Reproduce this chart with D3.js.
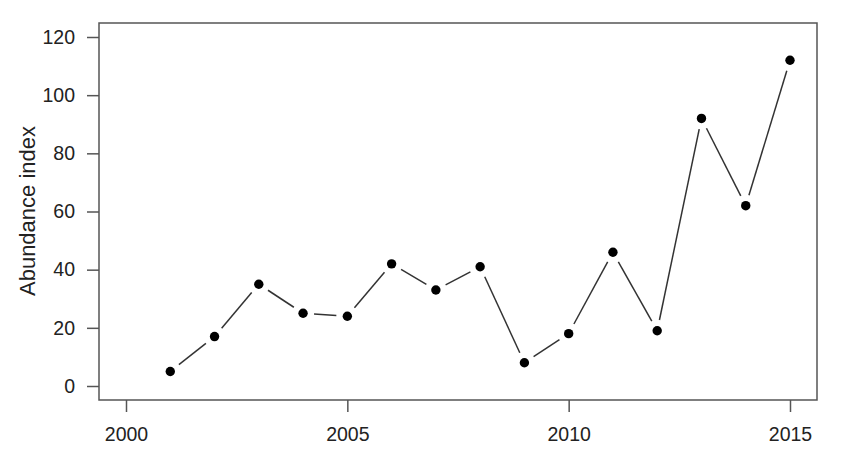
<!DOCTYPE html>
<html>
<head>
<meta charset="utf-8">
<script src="https://cdn.jsdelivr.net/npm/d3@7"></script>
<style>
  body { margin: 0; background: #fff; }
  text { font-family: "Liberation Sans", Arial, sans-serif; fill: #222; }
</style>
</head>
<body>
<div id="chart"></div>
<script>
// data
var years = [2001, 2002, 2003, 2004, 2005, 2006, 2007, 2008, 2009, 2010, 2011, 2012, 2013, 2014, 2015];
var abundance = [5, 17, 35, 25, 24, 42, 33, 41, 8, 18, 46, 19, 92, 62, 112];
var xTicks = [2000, 2005, 2010, 2015];
var yTicks = [0, 20, 40, 60, 80, 100, 120];

var W = 853, H = 464;
var box = { left: 99, right: 817, top: 23, bot: 400 };

var svg = d3.select("#chart").append("svg")
  .attr("width", W)
  .attr("height", H);

var x = d3.scaleLinear().domain([2000, 2015]).range([126, 790]);
var y = d3.scaleLinear().domain([0, 120]).range([386, 37]);

var data = years.map(function(d, i) { return { year: d, value: abundance[i] }; });

// plot frame
svg.append("rect")
  .attr("x", box.left)
  .attr("y", box.top)
  .attr("width", box.right - box.left)
  .attr("height", box.bot - box.top)
  .style("fill", "none")
  .style("stroke", "#555")
  .style("stroke-width", 1.5);

// x axis (R style, detached ticks)
var xAxis = d3.axisBottom(x).tickValues(xTicks).tickFormat(d3.format("d"))
  .tickSize(12).tickPadding(15);
var gx = svg.append("g")
  .attr("transform", "translate(0," + box.bot + ")")
  .call(xAxis);
gx.select(".domain").remove();
gx.selectAll("line").style("stroke", "#555").style("stroke-width", 1.5);
gx.selectAll("text").style("font-size", "19.5px").style("fill", "#222");

// y axis
var yAxis = d3.axisLeft(y).tickValues(yTicks).tickSize(12).tickPadding(12);
var gy = svg.append("g")
  .attr("transform", "translate(" + box.left + ",0)")
  .call(yAxis);
gy.select(".domain").remove();
gy.selectAll("line").style("stroke", "#555").style("stroke-width", 1.5);
gy.selectAll("text").style("font-size", "19.5px").style("fill", "#222");

// y label
svg.append("text")
  .attr("text-anchor", "middle")
  .attr("transform", "translate(35, 211) rotate(-90)")
  .style("font-size", "22px")
  .text("Abundance index");

// type = "b": segments with gaps round the points
var gap = 11;
var segs = d3.pairs(data);
svg.append("g").selectAll("line")
  .data(segs)
  .enter()
  .append("line")
  .each(function(p) {
    var x1 = x(p[0].year), y1 = y(p[0].value);
    var x2 = x(p[1].year), y2 = y(p[1].value);
    var len = Math.sqrt((x2 - x1) * (x2 - x1) + (y2 - y1) * (y2 - y1));
    var ux = (x2 - x1) / len, uy = (y2 - y1) / len;
    d3.select(this)
      .attr("x1", x1 + ux * gap).attr("y1", y1 + uy * gap)
      .attr("x2", x2 - ux * gap).attr("y2", y2 - uy * gap);
  })
  .style("stroke", "#333")
  .style("stroke-width", 1.5);

svg.append("g").selectAll("circle")
  .data(data)
  .enter()
  .append("circle")
  .attr("cx", function(d) { return x(d.year); })
  .attr("cy", function(d) { return y(d.value); })
  .attr("r", 4.7)
  .style("fill", "#000");
</script>
</body>
</html>
